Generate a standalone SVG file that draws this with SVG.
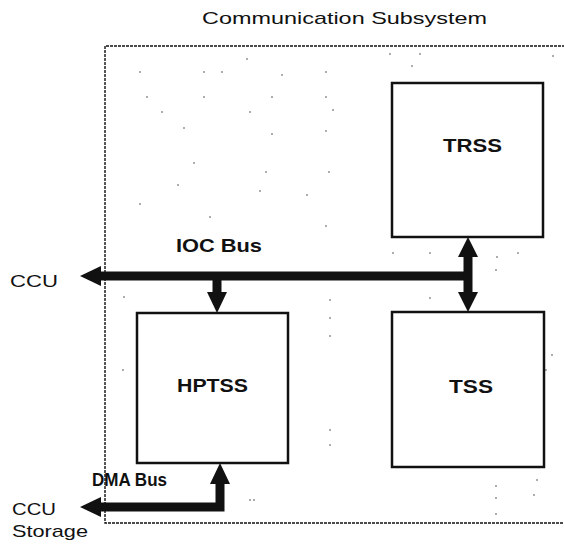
<svg xmlns="http://www.w3.org/2000/svg" width="564" height="546" viewBox="0 0 564 546">
<style>
.t{font-family:"Liberation Sans",Arial,sans-serif;font-size:17px;fill:#111}
.b{font-family:"Liberation Sans",Arial,sans-serif;font-size:19px;font-weight:bold;fill:#111}
.box{fill:#fff;stroke:#111;stroke-width:2.5}
.bus{fill:none;stroke:#111;stroke-width:9}
.dot{fill:#444}
</style>
<rect width="564" height="546" fill="#fff"/>
<text class="t" x="202" y="24" textLength="285" lengthAdjust="spacingAndGlyphs">Communication Subsystem</text>
<g id="subsystem">
<path d="M565 46 H105 V523 H565" fill="none" stroke="#111" stroke-width="1.4" stroke-dasharray="3 1"/>
</g>
<g id="noise">
<circle class="dot" cx="140" cy="72" r="0.8"/><circle class="dot" cx="204" cy="72" r="0.8"/><circle class="dot" cx="222" cy="72" r="0.8"/>
<circle class="dot" cx="247" cy="59" r="0.8"/><circle class="dot" cx="282" cy="75" r="0.8"/><circle class="dot" cx="326" cy="72" r="0.8"/>
<circle class="dot" cx="147" cy="97" r="0.8"/><circle class="dot" cx="204" cy="97" r="0.8"/><circle class="dot" cx="272" cy="97" r="0.8"/>
<circle class="dot" cx="326" cy="97" r="0.8"/><circle class="dot" cx="162" cy="112" r="0.8"/><circle class="dot" cx="250" cy="112" r="0.8"/>
<circle class="dot" cx="333" cy="110" r="0.8"/><circle class="dot" cx="184" cy="128" r="0.8"/><circle class="dot" cx="272" cy="134" r="0.8"/>
<circle class="dot" cx="326" cy="131" r="0.8"/><circle class="dot" cx="194" cy="163" r="0.8"/><circle class="dot" cx="266" cy="172" r="0.8"/>
<circle class="dot" cx="329" cy="172" r="0.8"/><circle class="dot" cx="178" cy="185" r="0.8"/><circle class="dot" cx="260" cy="191" r="0.8"/>
<circle class="dot" cx="307" cy="195" r="0.8"/><circle class="dot" cx="140" cy="204" r="0.8"/><circle class="dot" cx="210" cy="217" r="0.8"/>
<circle class="dot" cx="326" cy="226" r="0.8"/><circle class="dot" cx="390" cy="54" r="0.8"/><circle class="dot" cx="412" cy="66" r="0.8"/>
<circle class="dot" cx="420" cy="54" r="0.8"/><circle class="dot" cx="553" cy="56" r="0.8"/><circle class="dot" cx="393" cy="253" r="0.8"/>
<circle class="dot" cx="430" cy="253" r="0.8"/><circle class="dot" cx="497" cy="257" r="0.8"/><circle class="dot" cx="518" cy="253" r="0.8"/>
<circle class="dot" cx="496" cy="270" r="0.8"/><circle class="dot" cx="430" cy="298" r="0.8"/><circle class="dot" cx="330" cy="300" r="0.8"/>
<circle class="dot" cx="330" cy="318" r="0.8"/><circle class="dot" cx="330" cy="336" r="0.8"/><circle class="dot" cx="124" cy="297" r="0.8"/>
<circle class="dot" cx="123" cy="370" r="0.8"/><circle class="dot" cx="330" cy="430" r="0.8"/><circle class="dot" cx="330" cy="445" r="0.8"/>
<circle class="dot" cx="496" cy="486" r="0.8"/><circle class="dot" cx="496" cy="498" r="0.8"/><circle class="dot" cx="496" cy="514" r="0.8"/>
<circle class="dot" cx="537" cy="480" r="0.8"/><circle class="dot" cx="534" cy="495" r="0.8"/><circle class="dot" cx="552" cy="355" r="0.8"/>
<circle class="dot" cx="546" cy="370" r="0.8"/><circle class="dot" cx="250" cy="500" r="0.8"/><circle class="dot" cx="254" cy="500" r="0.8"/>
</g>
<g id="TRSS"><rect class="box" x="392" y="83" width="151" height="154"/><text class="b" x="443" y="152" textLength="59" lengthAdjust="spacingAndGlyphs">TRSS</text></g>
<g id="TSS"><rect class="box" x="392" y="312" width="152" height="155"/><text class="b" x="449" y="393" textLength="44" lengthAdjust="spacingAndGlyphs">TSS</text></g>
<g id="HPTSS"><rect class="box" x="137" y="313" width="151" height="150"/><text class="b" x="177" y="392" textLength="71" lengthAdjust="spacingAndGlyphs">HPTSS</text></g>
<g id="connectors">
<path class="bus" d="M96 276 H468"/>
<polygon points="80,276 101,266 101,286" fill="#111"/>
<path class="bus" d="M217 276 V295"/>
<polygon points="217,313 207,292 227,292" fill="#111"/>
<path class="bus" d="M468 254 V296"/>
<polygon points="468,237 458,257 478,257" fill="#111"/>
<polygon points="468,312 458,292 478,292" fill="#111"/>
<path class="bus" d="M96 507 H220 V482"/>
<polygon points="80,507 101,497 101,517" fill="#111"/>
<polygon points="220,463 210,484 230,484" fill="#111"/>
</g>
<g id="labels">
<text class="b" x="176" y="252" textLength="86" lengthAdjust="spacingAndGlyphs">IOC Bus</text>
<text class="b" x="92" y="486" style="font-size:18px" textLength="75" lengthAdjust="spacingAndGlyphs">DMA Bus</text>
<text class="t" x="10" y="287" textLength="48" lengthAdjust="spacingAndGlyphs">CCU</text>
<text class="t" x="12" y="515" textLength="44" lengthAdjust="spacingAndGlyphs">CCU</text>
<text class="t" x="12" y="537" textLength="76" lengthAdjust="spacingAndGlyphs">Storage</text>
</g>
</svg>
